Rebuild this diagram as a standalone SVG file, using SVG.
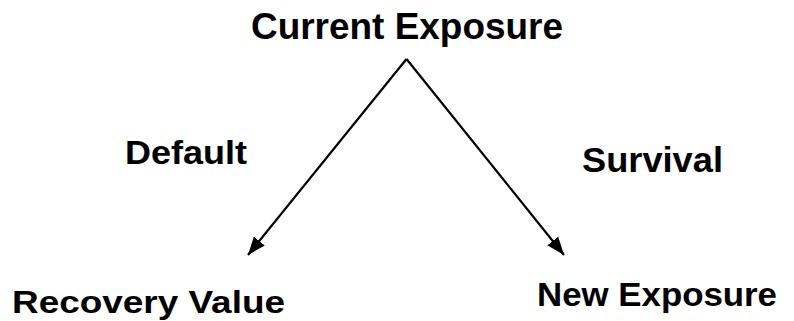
<svg xmlns="http://www.w3.org/2000/svg" width="794" height="321" viewBox="0 0 794 321">
<style>
.t{font-family:"Liberation Sans",Arial,sans-serif;font-weight:bold;fill:#000}
.c{stroke:#000;stroke-width:2.2;fill:none}
</style>
<defs>
<marker id="ah" markerUnits="userSpaceOnUse" markerWidth="20" markerHeight="16" refX="18" refY="8" orient="auto">
<path d="M0,1 L18,8 L0,15 Z" fill="#000"/>
</marker>
</defs>
<rect width="794" height="321" fill="#fff"/>
<g id="connectors">
<line class="c" x1="406.5" y1="59" x2="248" y2="255" marker-end="url(#ah)"/>
<line class="c" x1="406.5" y1="59" x2="564" y2="255" marker-end="url(#ah)"/>
</g>
<g id="current"><text class="t" x="251" y="39" font-size="37" textLength="312" lengthAdjust="spacingAndGlyphs">Current Exposure</text></g>
<g id="default"><text class="t" x="125" y="164" font-size="34" textLength="122" lengthAdjust="spacingAndGlyphs">Default</text></g>
<g id="survival"><text class="t" x="582" y="172" font-size="35" textLength="141" lengthAdjust="spacingAndGlyphs">Survival</text></g>
<g id="recovery"><text class="t" x="12" y="313" font-size="32" textLength="273" lengthAdjust="spacingAndGlyphs">Recovery Value</text></g>
<g id="new"><text class="t" x="537" y="306" font-size="33" textLength="240" lengthAdjust="spacingAndGlyphs">New Exposure</text></g>
</svg>
